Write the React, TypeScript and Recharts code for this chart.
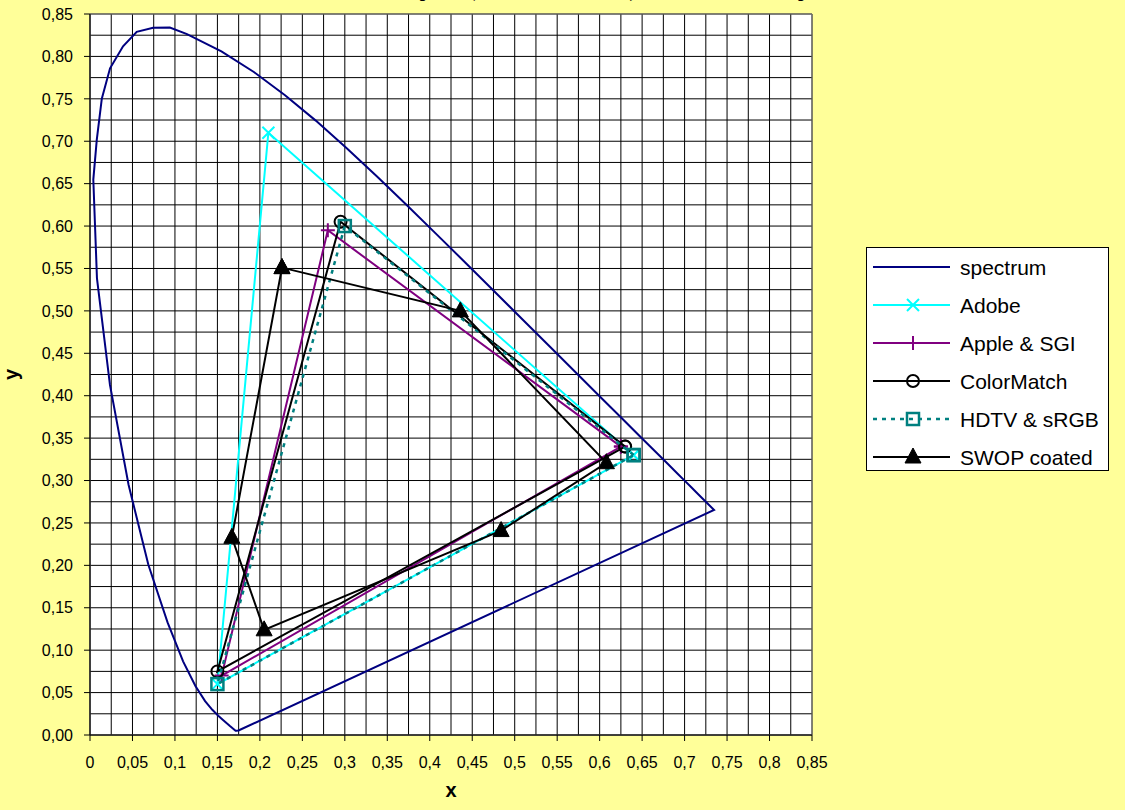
import React from 'react';
import { ScatterChart, Scatter, XAxis, YAxis, CartesianGrid, ReferenceArea } from 'recharts';

// ---- data ----
const spectrumX = [0.1741, 0.1714, 0.1644, 0.1566, 0.151, 0.144, 0.1355, 0.1241, 0.1096, 0.0913, 0.0687, 0.0454, 0.0235, 0.0082, 0.0039, 0.008, 0.0139, 0.0236, 0.0389, 0.055, 0.0743, 0.094, 0.1142, 0.1547, 0.1929, 0.2296, 0.2658, 0.3016, 0.3373, 0.3731, 0.4087, 0.4441, 0.4788, 0.5125, 0.5448, 0.5752, 0.6029, 0.627, 0.6482, 0.6658, 0.6801, 0.6915, 0.7006, 0.7079, 0.714, 0.719, 0.7347, 0.1741];
const spectrumY = [0.005, 0.0051, 0.0109, 0.0177, 0.0227, 0.0297, 0.0399, 0.0578, 0.0868, 0.1327, 0.2007, 0.295, 0.4127, 0.5384, 0.6548, 0.702, 0.7502, 0.786, 0.812, 0.829, 0.8338, 0.834, 0.8262, 0.8059, 0.7816, 0.7543, 0.7243, 0.6923, 0.6589, 0.6245, 0.5896, 0.5547, 0.5202, 0.4866, 0.4544, 0.4242, 0.3965, 0.3725, 0.3514, 0.334, 0.3197, 0.3083, 0.2993, 0.292, 0.2859, 0.2809, 0.2653, 0.005];

const adobeX = [0.64, 0.21, 0.15, 0.64];
const adobeY = [0.33, 0.71, 0.06, 0.33];

const appleX = [0.625, 0.28, 0.155, 0.625];
const appleY = [0.34, 0.595, 0.07, 0.34];

const colorMatchX = [0.63, 0.295, 0.15, 0.63];
const colorMatchY = [0.34, 0.605, 0.075, 0.34];

const hdtvX = [0.64, 0.3, 0.15, 0.64];
const hdtvY = [0.33, 0.6, 0.06, 0.33];

const swopX = [0.226, 0.436, 0.608, 0.484, 0.205, 0.167, 0.226];
const swopY = [0.551, 0.5, 0.321, 0.241, 0.124, 0.233, 0.551];

const seriesNames = ['spectrum', 'Adobe', 'Apple & SGI', 'ColorMatch', 'HDTV & sRGB', 'SWOP coated'];

const xTicks = [0, 0.05, 0.1, 0.15, 0.2, 0.25, 0.3, 0.35, 0.4, 0.45, 0.5, 0.55, 0.6, 0.65, 0.7, 0.75, 0.8, 0.85];
const xTickLabels = ['0', '0,05', '0,1', '0,15', '0,2', '0,25', '0,3', '0,35', '0,4', '0,45', '0,5', '0,55', '0,6', '0,65', '0,7', '0,75', '0,8', '0,85'];
const yTicks = [0, 0.05, 0.1, 0.15, 0.2, 0.25, 0.3, 0.35, 0.4, 0.45, 0.5, 0.55, 0.6, 0.65, 0.7, 0.75, 0.8, 0.85];
const yTickLabels = ['0,00', '0,05', '0,10', '0,15', '0,20', '0,25', '0,30', '0,35', '0,40', '0,45', '0,50', '0,55', '0,60', '0,65', '0,70', '0,75', '0,80', '0,85'];

const titleText = 'RGB color spaces (CIE 1931 standard) and SWOP for comparison';
const xTitle = 'x';
const yTitle = 'y';

// ---- styling ----
const BG = '#FFFF99';
const NAVY = '#000080';
const CYAN = '#00FFFF';
const PURPLE = '#800080';
const TEAL = '#008080';
const BLACK = '#000000';
const SANS = '"Liberation Sans", Arial, sans-serif';

const DOMAIN_MAX = 0.85;
const GRID_STEP = 0.025;
const gridValues = Array.from({ length: Math.round(DOMAIN_MAX / GRID_STEP) + 1 }, (_, i) => +(i * GRID_STEP).toFixed(3));

const toPoints = (xs: number[], ys: number[]) => xs.map((x, i) => ({ x, y: ys[i] }));

// ---- markers ----
const NoMarker = () => <g />;
const XMarker = (color: string) => (p: any) => {
  const { cx, cy } = p;
  const s = 6;
  return <path d={`M${cx - s},${cy - s}L${cx + s},${cy + s}M${cx - s},${cy + s}L${cx + s},${cy - s}`} stroke={color} strokeWidth={2} fill="none" />;
};
const PlusMarker = (color: string) => (p: any) => {
  const { cx, cy } = p;
  const s = 7;
  return <path d={`M${cx - s},${cy}L${cx + s},${cy}M${cx},${cy - s}L${cx},${cy + s}`} stroke={color} strokeWidth={2} fill="none" />;
};
const CircleMarker = (color: string) => (p: any) => <circle cx={p.cx} cy={p.cy} r={6} stroke={color} strokeWidth={2} fill="none" />;
const SquareMarker = (color: string) => (p: any) => <rect x={p.cx - 6} y={p.cy - 6} width={12} height={12} stroke={color} strokeWidth={2.5} fill="none" />;
const TriangleMarker = (color: string) => (p: any) => {
  const { cx, cy } = p;
  return <path d={`M${cx},${cy - 9}L${cx + 8},${cy + 6}L${cx - 8},${cy + 6}Z`} fill={color} stroke={color} strokeWidth={1} />;
};

const legendItems = [
  { name: seriesNames[0], color: NAVY, dash: undefined, marker: NoMarker },
  { name: seriesNames[1], color: CYAN, dash: undefined, marker: XMarker(CYAN) },
  { name: seriesNames[2], color: PURPLE, dash: undefined, marker: PlusMarker(PURPLE) },
  { name: seriesNames[3], color: BLACK, dash: undefined, marker: CircleMarker(BLACK) },
  { name: seriesNames[4], color: TEAL, dash: '4 5', marker: SquareMarker(TEAL) },
  { name: seriesNames[5], color: BLACK, dash: undefined, marker: TriangleMarker(BLACK) },
];

const W = 1125;
const H = 810;
const PLOT = { left: 90, top: 14, right: 812, bottom: 735 };

export default function App() {
  return (
    <div style={{ position: 'absolute', left: 0, top: 0, width: W, height: H, background: BG, overflow: 'hidden' }}>
      <ScatterChart
        width={W}
        height={H}
        margin={{ top: PLOT.top, left: 0, right: W - PLOT.right, bottom: 0 }}
      >
        <CartesianGrid
          fill="#ffffff"
          stroke="#000"
          strokeWidth={1}
          verticalCoordinatesGenerator={(args: any) => {
            const s = args?.xAxis?.scale;
            const o = args.offset;
            return gridValues.map((v) => (typeof s === 'function' ? s(v) : o.left + (v / DOMAIN_MAX) * o.width));
          }}
          horizontalCoordinatesGenerator={(args: any) => {
            const s = args?.yAxis?.scale;
            const o = args.offset;
            return gridValues.map((v) => (typeof s === 'function' ? s(v) : o.top + o.height - (v / DOMAIN_MAX) * o.height));
          }}
        />
        <ReferenceArea x1={0} x2={DOMAIN_MAX} y1={0} y2={DOMAIN_MAX} fill="none" fillOpacity={0} stroke="#808080" strokeWidth={1} />
        <XAxis
          type="number"
          dataKey="x"
          domain={[0, DOMAIN_MAX]}
          ticks={xTicks}
          interval={0}
          height={H - PLOT.bottom}
          tickSize={6}
          tickMargin={16}
          allowDataOverflow
          axisLine={{ stroke: '#000' }}
          tickLine={{ stroke: '#000' }}
          tick={{ fill: '#000', fontSize: 16, fontFamily: SANS }}
          tickFormatter={(v: number) => xTickLabels[xTicks.indexOf(v)] ?? String(v)}
        />
        <YAxis
          type="number"
          dataKey="y"
          domain={[0, DOMAIN_MAX]}
          ticks={yTicks}
          interval={0}
          width={PLOT.left}
          tickSize={6}
          tickMargin={11}
          allowDataOverflow
          axisLine={{ stroke: '#000' }}
          tickLine={{ stroke: '#000' }}
          tick={{ fill: '#000', fontSize: 16, fontFamily: SANS }}
          tickFormatter={(v: number) => yTickLabels[yTicks.indexOf(v)] ?? String(v)}
        />
        <Scatter name={seriesNames[0]} data={toPoints(spectrumX, spectrumY)} line={{ stroke: NAVY, strokeWidth: 2 }} lineType="joint" shape={NoMarker} isAnimationActive={false} />
        <Scatter name={seriesNames[1]} data={toPoints(adobeX, adobeY)} line={{ stroke: CYAN, strokeWidth: 2 }} lineType="joint" shape={XMarker(CYAN)} isAnimationActive={false} />
        <Scatter name={seriesNames[2]} data={toPoints(appleX, appleY)} line={{ stroke: PURPLE, strokeWidth: 2 }} lineType="joint" shape={PlusMarker(PURPLE)} isAnimationActive={false} />
        <Scatter name={seriesNames[3]} data={toPoints(colorMatchX, colorMatchY)} line={{ stroke: BLACK, strokeWidth: 2 }} lineType="joint" shape={CircleMarker(BLACK)} isAnimationActive={false} />
        <Scatter name={seriesNames[4]} data={toPoints(hdtvX, hdtvY)} line={{ stroke: TEAL, strokeWidth: 2.5, strokeDasharray: '4 5' }} lineType="joint" shape={SquareMarker(TEAL)} isAnimationActive={false} />
        <Scatter name={seriesNames[5]} data={toPoints(swopX, swopY)} line={{ stroke: BLACK, strokeWidth: 2 }} lineType="joint" shape={TriangleMarker(BLACK)} isAnimationActive={false} />
      </ScatterChart>

      {/* titles */}
      <svg width={W} height={H} style={{ position: 'absolute', left: 0, top: 0, pointerEvents: 'none' }}>
        <text x={321} y={-3} fontFamily='"Liberation Serif", "Times New Roman", serif' fontWeight="bold" fontSize={19} fill="#000">{titleText}</text>
        <text x={(PLOT.left + PLOT.right) / 2} y={797} textAnchor="middle" fontFamily={SANS} fontWeight="bold" fontSize={20} fill="#000">{xTitle}</text>
        <text x={18} y={(PLOT.top + PLOT.bottom) / 2} textAnchor="middle" fontFamily={SANS} fontWeight="bold" fontSize={20} fill="#000" transform={`rotate(-90 18 ${(PLOT.top + PLOT.bottom) / 2})`}>{yTitle}</text>
      </svg>

      {/* legend */}
      <svg width={243} height={224} style={{ position: 'absolute', left: 866, top: 247 }}>
        <rect x={0.5} y={0.5} width={242} height={223} fill="#fff" stroke="#000" strokeWidth={1} />
        {legendItems.map((it, i) => {
          const cy = 20 + i * 38;
          const M = it.marker as any;
          return (
            <g key={it.name}>
              <line x1={7} x2={84} y1={cy} y2={cy} stroke={it.color} strokeWidth={it.dash ? 2.5 : 2} strokeDasharray={it.dash} />
              {M({ cx: 47, cy })}
              <text x={94} y={cy + 7.5} fontFamily={SANS} fontSize={21} fill="#000">{it.name}</text>
            </g>
          );
        })}
      </svg>
    </div>
  );
}
